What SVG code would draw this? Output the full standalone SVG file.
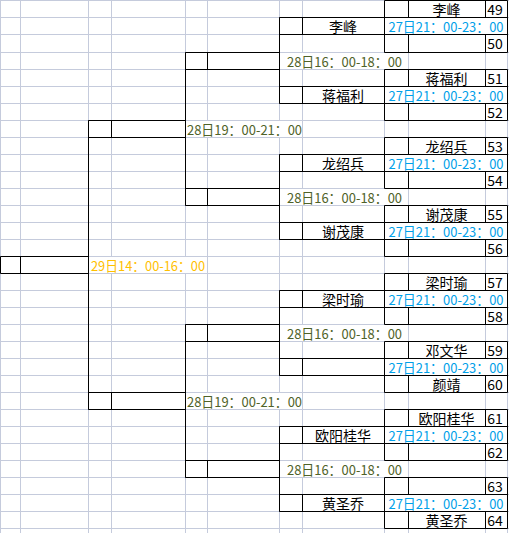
<svg xmlns="http://www.w3.org/2000/svg" width="509" height="533" viewBox="0 0 509 533">
<style>
.grid{stroke:#c5cbdc;stroke-width:1;fill:none}
.cover{fill:#ffffff}
.b{stroke:#000;stroke-width:1;fill:none}
text{font-family:"Noto Sans CJK SC","Noto Sans",sans-serif;font-size:14px;fill:#000}
.nm{text-anchor:middle}
.num{text-anchor:middle}
.blue{fill:#00a0e9;font-size:13.5px}
.green{fill:#4f6228;font-size:13.5px}
.gold{fill:#ffc000;font-size:13.5px}
</style>
<rect x="0" y="0" width="509" height="533" fill="#ffffff"/>
<g id="grid">
<path class="grid" d="M0 0.5H509M0 17.5H509M0 34.5H509M0 52.5H509M0 69.5H509M0 86.5H509M0 103.5H509M0 120.5H509M0 137.5H509M0 154.5H509M0 171.5H509M0 188.5H509M0 205.5H509M0 222.5H509M0 239.5H509M0 256.5H509M0 273.5H509M0 290.5H509M0 307.5H509M0 324.5H509M0 341.5H509M0 358.5H509M0 375.5H509M0 392.5H509M0 409.5H509M0 426.5H509M0 443.5H509M0 460.5H509M0 477.5H509M0 494.5H509M0 511.5H509M0 528.5H509"/>
<path class="grid" d="M0.5 0V533M20.5 0V533M88.5 0V533M111.5 0V533M185.5 0V533M207.5 0V533M279.5 0V533M302.5 0V533M384.5 0V533M408.5 0V533M485.5 0V533M507.5 0V533"/>
<!-- overflow areas hide gridlines -->
<rect class="cover" x="385" y="18" width="122" height="16"/>
<rect class="cover" x="385" y="87" width="122" height="16"/>
<rect class="cover" x="385" y="155" width="122" height="16"/>
<rect class="cover" x="385" y="223" width="122" height="16"/>
<rect class="cover" x="385" y="291" width="122" height="16"/>
<rect class="cover" x="385" y="359" width="122" height="16"/>
<rect class="cover" x="385" y="427" width="122" height="16"/>
<rect class="cover" x="385" y="495" width="122" height="16"/>
<rect class="cover" x="280" y="53" width="128" height="16"/>
<rect class="cover" x="280" y="189" width="128" height="16"/>
<rect class="cover" x="280" y="325" width="128" height="16"/>
<rect class="cover" x="280" y="461" width="128" height="16"/>
<rect class="cover" x="186" y="121" width="116" height="16"/>
<rect class="cover" x="186" y="393" width="116" height="16"/>
<rect class="cover" x="89" y="257" width="118" height="16"/>
</g>
<g id="connectors">
<path class="b" d="M279.5 17.5V103.5M279.5 154.5V239.5M279.5 290.5V375.5M279.5 426.5V511.5"/>
<path class="b" d="M185.5 52.5V205.5M185.5 324.5V477.5"/>
<path class="b" d="M88.5 120.5V409.5"/>
</g>
<!-- Round 1 (level 0) -->
<g id="m49-50">
<path class="b" d="M384.5 0.5H507.5V52.5H384.5ZM384.5 17.5H507.5M384.5 34.5H507.5M408.5 0.5V17.5M485.5 0.5V17.5M408.5 34.5V52.5M485.5 34.5V52.5"/>
<text class="nm" x="446.5" y="15">李峰</text><text class="num" x="495" y="15">49</text>
<text class="blue" x="388.5" y="32" textLength="115" lengthAdjust="spacingAndGlyphs">27日21：00-23：00</text>
<text class="num" x="495" y="49">50</text>
</g>
<g id="m51-52">
<path class="b" d="M384.5 69.5H507.5V120.5H384.5ZM384.5 86.5H507.5M384.5 103.5H507.5M408.5 69.5V86.5M485.5 69.5V86.5M408.5 103.5V120.5M485.5 103.5V120.5"/>
<text class="nm" x="446.5" y="84">蒋福利</text><text class="num" x="495" y="84">51</text>
<text class="blue" x="388.5" y="101" textLength="115" lengthAdjust="spacingAndGlyphs">27日21：00-23：00</text>
<text class="num" x="495" y="118">52</text>
</g>
<g id="m53-54">
<path class="b" d="M384.5 137.5H507.5V188.5H384.5ZM384.5 154.5H507.5M384.5 171.5H507.5M408.5 137.5V154.5M485.5 137.5V154.5M408.5 171.5V188.5M485.5 171.5V188.5"/>
<text class="nm" x="446.5" y="152">龙绍兵</text><text class="num" x="495" y="152">53</text>
<text class="blue" x="388.5" y="169" textLength="115" lengthAdjust="spacingAndGlyphs">27日21：00-23：00</text>
<text class="num" x="495" y="186">54</text>
</g>
<g id="m55-56">
<path class="b" d="M384.5 205.5H507.5V256.5H384.5ZM384.5 222.5H507.5M384.5 239.5H507.5M408.5 205.5V222.5M485.5 205.5V222.5M408.5 239.5V256.5M485.5 239.5V256.5"/>
<text class="nm" x="446.5" y="220">谢茂康</text><text class="num" x="495" y="220">55</text>
<text class="blue" x="388.5" y="237" textLength="115" lengthAdjust="spacingAndGlyphs">27日21：00-23：00</text>
<text class="num" x="495" y="254">56</text>
</g>
<g id="m57-58">
<path class="b" d="M384.5 273.5H507.5V324.5H384.5ZM384.5 290.5H507.5M384.5 307.5H507.5M408.5 273.5V290.5M485.5 273.5V290.5M408.5 307.5V324.5M485.5 307.5V324.5"/>
<text class="nm" x="446.5" y="288">梁时瑜</text><text class="num" x="495" y="288">57</text>
<text class="blue" x="388.5" y="305" textLength="115" lengthAdjust="spacingAndGlyphs">27日21：00-23：00</text>
<text class="num" x="495" y="322">58</text>
</g>
<g id="m59-60">
<path class="b" d="M384.5 341.5H507.5V392.5H384.5ZM384.5 358.5H507.5M384.5 375.5H507.5M408.5 341.5V358.5M485.5 341.5V358.5M408.5 375.5V392.5M485.5 375.5V392.5"/>
<text class="nm" x="446.5" y="356">邓文华</text><text class="num" x="495" y="356">59</text>
<text class="blue" x="388.5" y="373" textLength="115" lengthAdjust="spacingAndGlyphs">27日21：00-23：00</text>
<text class="nm" x="446.5" y="390">颜靖</text><text class="num" x="495" y="390">60</text>
</g>
<g id="m61-62">
<path class="b" d="M384.5 409.5H507.5V460.5H384.5ZM384.5 426.5H507.5M384.5 443.5H507.5M408.5 409.5V426.5M485.5 409.5V426.5M408.5 443.5V460.5M485.5 443.5V460.5"/>
<text class="nm" x="446.5" y="424">欧阳桂华</text><text class="num" x="495" y="424">61</text>
<text class="blue" x="388.5" y="441" textLength="115" lengthAdjust="spacingAndGlyphs">27日21：00-23：00</text>
<text class="num" x="495" y="458">62</text>
</g>
<g id="m63-64">
<path class="b" d="M384.5 477.5H507.5V528.5H384.5ZM384.5 494.5H507.5M384.5 511.5H507.5M408.5 477.5V494.5M485.5 477.5V494.5M408.5 511.5V528.5M485.5 511.5V528.5"/>
<text class="num" x="495" y="492">63</text>
<text class="blue" x="388.5" y="509" textLength="115" lengthAdjust="spacingAndGlyphs">27日21：00-23：00</text>
<text class="nm" x="446.5" y="526">黄圣乔</text><text class="num" x="495" y="526">64</text>
</g>
<!-- Round 2 (level 1) -->
<g id="r2-1"><path class="b" d="M279.5 17.5H384.5V34.5H279.5ZM302.5 17.5V34.5"/><text class="nm" x="343" y="32">李峰</text></g>
<g id="r2-2"><path class="b" d="M279.5 86.5H384.5V103.5H279.5ZM302.5 86.5V103.5"/><text class="nm" x="343" y="101">蒋福利</text></g>
<g id="r2-3"><path class="b" d="M279.5 154.5H384.5V171.5H279.5ZM302.5 154.5V171.5"/><text class="nm" x="343" y="169">龙绍兵</text></g>
<g id="r2-4"><path class="b" d="M279.5 222.5H384.5V239.5H279.5ZM302.5 222.5V239.5"/><text class="nm" x="343" y="237">谢茂康</text></g>
<g id="r2-5"><path class="b" d="M279.5 290.5H384.5V307.5H279.5ZM302.5 290.5V307.5"/><text class="nm" x="343" y="305">梁时瑜</text></g>
<g id="r2-6"><path class="b" d="M279.5 358.5H384.5V375.5H279.5ZM302.5 358.5V375.5"/></g>
<g id="r2-7"><path class="b" d="M279.5 426.5H384.5V443.5H279.5ZM302.5 426.5V443.5"/><text class="nm" x="343" y="441">欧阳桂华</text></g>
<g id="r2-8"><path class="b" d="M279.5 494.5H384.5V511.5H279.5ZM302.5 494.5V511.5"/><text class="nm" x="343" y="509">黄圣乔</text></g>
<g id="t-r2">
<text class="green" x="287" y="67" textLength="115" lengthAdjust="spacingAndGlyphs">28日16：00-18：00</text>
<text class="green" x="287" y="203" textLength="115" lengthAdjust="spacingAndGlyphs">28日16：00-18：00</text>
<text class="green" x="287" y="339" textLength="115" lengthAdjust="spacingAndGlyphs">28日16：00-18：00</text>
<text class="green" x="287" y="475" textLength="115" lengthAdjust="spacingAndGlyphs">28日16：00-18：00</text>
</g>
<!-- Round 3 (level 2) -->
<g id="r3-1"><path class="b" d="M185.5 52.5H279.5V69.5H185.5ZM207.5 52.5V69.5"/></g>
<g id="r3-2"><path class="b" d="M185.5 188.5H279.5V205.5H185.5ZM207.5 188.5V205.5"/></g>
<g id="r3-3"><path class="b" d="M185.5 324.5H279.5V341.5H185.5ZM207.5 324.5V341.5"/></g>
<g id="r3-4"><path class="b" d="M185.5 460.5H279.5V477.5H185.5ZM207.5 460.5V477.5"/></g>
<g id="t-r3">
<text class="green" x="187" y="135" textLength="115" lengthAdjust="spacingAndGlyphs">28日19：00-21：00</text>
<text class="green" x="187" y="407" textLength="115" lengthAdjust="spacingAndGlyphs">28日19：00-21：00</text>
</g>
<!-- Round 4 (level 3) -->
<g id="r4-1"><path class="b" d="M88.5 120.5H185.5V137.5H88.5ZM111.5 120.5V137.5"/></g>
<g id="r4-2"><path class="b" d="M88.5 392.5H185.5V409.5H88.5ZM111.5 392.5V409.5"/></g>
<g id="t-r4"><text class="gold" x="91" y="271" textLength="114" lengthAdjust="spacingAndGlyphs">29日14：00-16：00</text></g>
<!-- Final -->
<g id="final"><path class="b" d="M0.5 256.5H88.5V273.5H0.5ZM20.5 256.5V273.5"/></g>
</svg>
